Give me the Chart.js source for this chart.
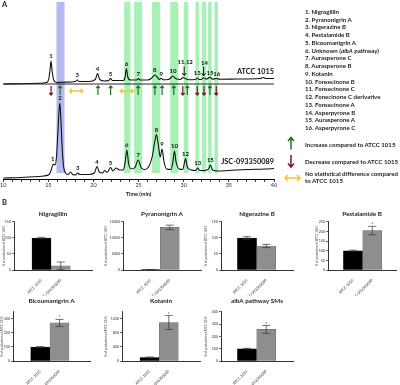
<!DOCTYPE html>
<html>
<head>
<meta charset="utf-8">
<script src="https://cdn.jsdelivr.net/npm/chart.js@4.4.0/dist/chart.umd.min.js"></script>
<style>
body{margin:0;width:400px;height:385px;position:relative;overflow:hidden;background:#fff;font-family:Lato,"Open Sans",sans-serif;color:#222}
canvas{position:absolute}
.t{position:absolute;font-weight:bold;font-size:6.1px;white-space:nowrap;line-height:7.75px}
.pl{position:absolute;font-weight:bold;font-size:7.5px}
</style>
</head>
<body>
<canvas id="chrom" width="400" height="200" style="left:0;top:0"></canvas>
<div class="pl" style="left:2px;top:0px">A</div>
<div class="pl" style="left:2px;top:198px">B</div>
<div id="legend" class="t" style="left:305px;top:7.8px"></div>
<div class="t" style="left:305px;top:141px">Increase compared to ATCC 1015</div>
<div class="t" style="left:305px;top:157.5px">Decrease compared to ATCC 1015</div>
<div class="t" style="left:305px;top:169.5px">No statistical difference compared<br>to ATCC 1015</div>
<script>
// ---- panel A data ----
const compoundNames = ['Nigragillin','Pyranonigrin A','Nigerazine B','Pestalamide B','Bicoumanigrin A',
  'Unknown (albA pathway)','Aurasperone C','Aurasperone B','Kotanin','Fonsecinone B','Fonsecinone C',
  'Fonecinone C derivative','Fonsecinone A','Asperpyrone B','Aurasperone A','Asperpyrone C'];
const changeTimes = [15.3,16.3,18.1,20.5,21.9,23.7,24.95,26.8,27.6,28.9,29.9,30.4,31.5,32.25,32.9,33.6];
const changeKinds = ['down','up','same','up','up','same','up','up','up','up','down','up','down','down','up','down'];

const bandStart = [15.9,23.4,24.5,26.5,28.5,30.0,31.3,32.0,32.7,33.4];
const bandEnd   = [16.8,24.1,25.4,27.4,29.4,30.5,31.7,32.5,33.1,33.8];
const bandKind  = ['blue','green','green','green','green','green','green','green','green','green'];

// retention time (min), signal
const atccTime = [10,12,14,14.8,15.05,15.2,15.3,15.42,15.6,15.9,16.5,17.5,18,18.2,18.4,19.5,20.2,20.45,20.7,21.2,21.7,21.9,22.1,23.3,23.5,23.65,23.8,24.1,24.8,24.95,25.2,26,26.4,26.8,27.1,27.3,27.5,27.7,28.3,28.6,28.8,29.1,29.6,29.95,30.2,30.6,31.3,31.5,31.7,32,32.2,32.5,32.9,33.2,33.6,34,36,38.5,38.8,39.1,40];
const atccSignal = [95,95.3,95.7,96.5,100,110,118,108,99,96.5,96.8,97,97.5,99,97.5,97.5,99.5,105.5,99.5,98,98.5,100.5,98.5,98.5,102,110.5,102,99,99,100.5,99,99,100.5,104,101.5,99.5,100.8,99.3,99.5,101.5,103,100.5,99.5,101.5,100.3,99.3,99.5,101,99.5,99.8,101.3,99.8,101.7,99.8,100.5,99.8,100,100.5,101.5,100.5,100.5];
const atccFlatTime = [10,40];
const atccFlatSignal = [95,95];

const jscTime = [10,12,13.5,14.5,15.1,15.35,15.55,15.75,15.9,16.05,16.2,16.28,16.4,16.55,16.7,16.9,17.2,17.45,17.7,18,18.25,18.5,19.5,20.1,20.4,20.65,21,21.25,21.5,21.9,22.15,22.5,22.9,23.3,23.5,23.7,23.9,24.2,24.6,24.95,25.3,25.7,26.1,26.5,26.8,26.98,27.2,27.4,27.6,27.8,28.1,28.6,28.8,28.97,29.15,29.5,29.9,30.05,30.2,30.4,30.8,31.3,31.55,31.8,32.3,32.5,32.75,32.95,33.2,33.8,35,37,39,40];
const jscSignal = [1,1.5,2.2,3,4.5,10,15,14,22,45,70,76,58,28,12,6,4.5,7,4.5,4,6,4.5,4.5,6,12.5,7,6,8.5,6.5,11.5,8,11,9,9,16,29,15,10,11.5,19,11,9.5,12,22,38,44.5,33,22,30,18,10,9.5,17,28,17,10,9.5,15,20.5,12,9,8.5,11,8.5,8.5,9,10,14,9,8,8.5,9.5,10,10.5];

const atccPeakIds = ['1','3','4','5','6','7','8','9','10','11,12','13','14','15','16'];
const atccPeakTime = [15.3,18.2,20.45,21.9,23.65,24.95,26.8,27.5,28.8,30.05,31.5,32.2,32.9,33.65];
const atccPeakSignal = [118,99,105.5,100.5,110.5,100.5,104,100.8,103,101.5,101,101.3,101.7,100.5];
const atccPointer = [0,0,0,0,0,0,0,0,0,1,0,1,0,0];

const jscPeakIds = ['1','2','3','4','5','6','7','8','9','10','12','13','15'];
const jscPeakTime = [15.5,16.28,18.25,20.4,21.9,23.7,24.95,26.98,27.6,28.97,30.2,31.55,32.95];
const jscPeakSignal = [15,76,6,12.5,11.5,29,19,44.5,30,28,20.5,11,14];

// ---- panel B data ----
const groups = ['ATCC 1015','JSC-093350089'];
const barTitles = ['Nigragillin','Pyranonigrin A','Nigerazine B','Pestalamide B','Bicoumanigrin A','Kotanin','albA pathway SMs'];
const meanATCC = [100,100,100,100,100,100,100];
const errATCC  = [2,60,4,3,3,15,3];
const meanJSC  = [13,13300,75,205,272,1100,258];
const errJSC   = [12,700,5,22,25,200,32];
const yMax     = [150,15000,150,250,350,1400,400];
const yStep    = [50,5000,50,50,50,200,100];
const starred  = [false,false,false,true,true,true,true];

const GREEN = 'rgb(35,110,45)', RED = 'rgb(125,20,35)', YELLOW = 'rgb(245,200,50)';

function arrowV(ctx, x, yTail, yHead, color, w, hw, hh) {
  const d = yHead < yTail ? 1 : -1;
  ctx.strokeStyle = color; ctx.lineWidth = w;
  ctx.beginPath();
  ctx.moveTo(x, yTail); ctx.lineTo(x, yHead);
  ctx.moveTo(x - hw, yHead + d * hh); ctx.lineTo(x, yHead); ctx.lineTo(x + hw, yHead + d * hh);
  ctx.stroke();
}
function arrowH(ctx, x0, x1, y, color, w, hh) {
  ctx.strokeStyle = color; ctx.lineWidth = w;
  ctx.beginPath();
  ctx.moveTo(x0, y); ctx.lineTo(x1, y);
  ctx.moveTo(x0 + hh, y - hh); ctx.lineTo(x0, y); ctx.lineTo(x0 + hh, y + hh);
  ctx.moveTo(x1 - hh, y - hh); ctx.lineTo(x1, y); ctx.lineTo(x1 - hh, y + hh);
  ctx.stroke();
}

const chromPlugin = {
  id: 'chrom',
  beforeDatasetsDraw(chart) {
    const {ctx, scales: {x, y}} = chart;
    const top = y.getPixelForValue(177), bot = y.getPixelForValue(6);
    ctx.save();
    bandStart.forEach((s, i) => {
      ctx.fillStyle = bandKind[i] === 'blue' ? 'rgb(182,184,243)' : 'rgb(168,241,182)';
      const x0 = x.getPixelForValue(s), x1 = x.getPixelForValue(bandEnd[i]);
      ctx.fillRect(x0, top, x1 - x0, bot - top);
    });
    ctx.restore();
  },
  afterDatasetsDraw(chart) {
    const {ctx, scales: {x, y}} = chart;
    ctx.save();
    ctx.fillStyle = '#111';
    ctx.textAlign = 'center'; ctx.textBaseline = 'bottom';
    ctx.font = 'bold 6px Lato';
    atccPeakIds.forEach((id, i) => {
      const px = x.getPixelForValue(atccPeakTime[i]), py = y.getPixelForValue(atccPeakSignal[i]);
      if (atccPointer[i]) {
        arrowV(ctx, px, py - 11, py - 2, '#000', 0.9, 2, 2.5);
        ctx.fillText(id, px + 1, py - 12);
      } else ctx.fillText(id, px, py - 1.5);
    });
    jscPeakIds.forEach((id, i) => {
      const px = x.getPixelForValue(jscPeakTime[i]), py = y.getPixelForValue(jscPeakSignal[i]);
      ctx.fillText(id, px, py - 1.5);
    });
    // trace names
    ctx.textAlign = 'right'; ctx.font = 'bold 7.3px Lato';
    const xe = x.getPixelForValue(40);
    ctx.fillText('ATCC 1015', xe, y.getPixelForValue(atccSignal[atccSignal.length - 1]) - 3);
    ctx.fillText('JSC-093350089', xe, y.getPixelForValue(jscSignal[jscSignal.length - 1]) - 3);
    // change arrows
    const yA = y.getPixelForValue(93), yB = y.getPixelForValue(84);
    changeTimes.forEach((t, i) => {
      const px = x.getPixelForValue(t);
      if (changeKinds[i] === 'up') arrowV(ctx, px, yB, yA, GREEN, 1.2, 1.8, 2.2);
      else if (changeKinds[i] === 'down') arrowV(ctx, px, yA, yB, RED, 1.2, 1.8, 2.2);
      else arrowH(ctx, px - 6.5, px + 6.5, (yA + yB) / 2 + 0.5, YELLOW, 1.5, 2.2);
    });
    // legend glyphs
    arrowV(ctx, 291, 149.5, 137.5, GREEN, 1.5, 3, 3.5);
    arrowV(ctx, 291, 155, 167, RED, 1.5, 3, 3.5);
    arrowH(ctx, 285, 300, 178, YELLOW, 1.6, 3);
    ctx.restore();
  }
};

const pts = (ts, vs) => ts.map((t, i) => ({x: t, y: vs[i]}));
const lineStyle = {borderColor: '#111', borderWidth: 1.1, pointRadius: 0, cubicInterpolationMode: 'monotone', fill: false};

new Chart(document.getElementById('chrom'), {
  type: 'line',
  data: {datasets: [
    Object.assign({label: 'ATCC 1015', data: pts(atccTime, atccSignal)}, lineStyle),
    Object.assign({label: 'ATCC 1015 baseline', data: pts(atccFlatTime, atccFlatSignal)}, lineStyle, {borderWidth: 0.9}),
    Object.assign({label: 'JSC-093350089', data: pts(jscTime, jscSignal)}, lineStyle)
  ]},
  options: {
    responsive: false, devicePixelRatio: 1, animation: false,
    layout: {padding: {left: 3, right: 126, top: 0, bottom: 0}},
    plugins: {legend: {display: false}, tooltip: {enabled: false}},
    scales: {
      x: {
        type: 'linear', min: 10, max: 40,
        afterFit(s) { s.height = 21; },
        afterBuildTicks(s) { s.ticks = []; for (let v = 10; v <= 40; v++) s.ticks.push({value: v}); },
        ticks: {autoSkip: false, maxRotation: 0, padding: 0, color: '#333', font: {family: 'Lato', size: 5.5},
          callback: v => v % 5 === 0 ? v : ''},
        grid: {drawOnChartArea: false, tickLength: 3, color: '#000', lineWidth: 0.8},
        border: {color: '#000', width: 1},
        title: {display: true, text: 'Time (min)', color: '#222', font: {family: 'Lato', size: 5.5, weight: 'bold'}, padding: {top: 0, bottom: 2.7}}
      },
      y: {display: false, min: 0, max: 179}
    }
  },
  plugins: [chromPlugin]
});

document.getElementById('legend').innerHTML = compoundNames
  .map((n, i) => `${i + 1}. ${n.replace('albA', '<i>albA</i>')}`).join('<br>');

// ---- panel B charts ----
const barPos = [ // axis x, gap to y title, plot width, row
  {ax: 14, gap: 9, w: 78, row: 0}, {ax: 123, gap: 16, w: 78, row: 0},
  {ax: 221, gap: 14, w: 72, row: 0}, {ax: 328, gap: 10, w: 68, row: 0},
  {ax: 13, gap: 10.6, w: 77, row: 1}, {ax: 122, gap: 15, w: 78, row: 1},
  {ax: 221, gap: 14, w: 72, row: 1}
];
const rows = [{top: 208, h: 88, xh: 26, tb: 4.8}, {top: 295, h: 90, xh: 24, tb: 7.8}];

const errPlugin = {
  id: 'err',
  afterDatasetsDraw(chart, args, opts) {
    const i = opts.idx, {ctx, scales: {x, y}} = chart;
    ctx.save();
    ctx.strokeStyle = '#333'; ctx.lineWidth = 0.7;
    [[meanATCC[i], errATCC[i]], [meanJSC[i], errJSC[i]]].forEach(([m, e], k) => {
      const px = x.getPixelForValue(k), yt = y.getPixelForValue(m + e), yb = y.getPixelForValue(m - e);
      ctx.beginPath();
      ctx.moveTo(px, yt); ctx.lineTo(px, yb);
      ctx.moveTo(px - 4, yt); ctx.lineTo(px + 4, yt);
      ctx.moveTo(px - 4, yb); ctx.lineTo(px + 4, yb);
      ctx.stroke();
    });
    if (starred[i]) {
      ctx.fillStyle = '#333'; ctx.font = '5px Lato'; ctx.textAlign = 'center'; ctx.textBaseline = 'bottom';
      ctx.fillText('*', x.getPixelForValue(1), y.getPixelForValue(meanJSC[i] + errJSC[i]) + 1);
    }
    ctx.restore();
  }
};

barTitles.forEach((title, i) => {
  const P = barPos[i], R = rows[P.row];
  const left = Math.floor(P.ax - P.gap - 2.3);
  const yw = P.ax - left;
  const cv = document.createElement('canvas');
  cv.width = Math.ceil(yw + P.w + 3); cv.height = R.h;
  cv.style.left = left + 'px'; cv.style.top = R.top + 'px';
  document.body.appendChild(cv);
  new Chart(cv, {
    type: 'bar',
    data: {datasets: [{
      label: title,
      data: [{x: 0, y: meanATCC[i]}, {x: 1, y: meanJSC[i]}],
      backgroundColor: ['#000', '#8e8e8e'], borderColor: ['#000', '#666'], borderWidth: 0.5,
      barThickness: 19
    }]},
    options: {
      responsive: false, devicePixelRatio: 1, animation: false,
      layout: {padding: {left: 0, right: 3, top: 0, bottom: 0}},
      plugins: {
        legend: {display: false}, tooltip: {enabled: false},
        title: {display: true, text: title, fullSize: false, color: '#222',
          font: {family: 'Lato', size: 6.3, weight: 'bold'}, padding: {top: 2, bottom: R.tb - 0.4}},
        err: {idx: i}
      },
      scales: {
        x: {
          type: 'linear', min: -16 / 38.5, max: (P.w - 16) / 38.5,
          afterBuildTicks(s) { s.ticks = [{value: 0}, {value: 1}]; },
          afterFit(s) { s.height = R.xh; },
          ticks: {autoSkip: false, minRotation: 45, maxRotation: 45, padding: 0, color: '#333',
            font: {family: 'Lato', size: 3.8}, callback: v => groups[v]},
          grid: {display: false},
          border: {color: '#000', width: 0.8}
        },
        y: {
          min: 0, max: yMax[i],
          afterFit(s) { s.width = yw; },
          ticks: {stepSize: yStep[i], padding: 1, color: '#333', font: {family: 'Lato', size: 3.6},
            callback: v => String(v)},
          grid: {drawOnChartArea: false, tickLength: 2, color: '#000', lineWidth: 0.6},
          border: {color: '#000', width: 0.8},
          title: {display: true, text: '% of production of ATCC 1015', color: '#444',
            font: {family: 'Lato', size: 3}, padding: {top: 0.5, bottom: 0}}
        }
      }
    },
    plugins: [errPlugin]
  });
});
</script>
</body>
</html>
